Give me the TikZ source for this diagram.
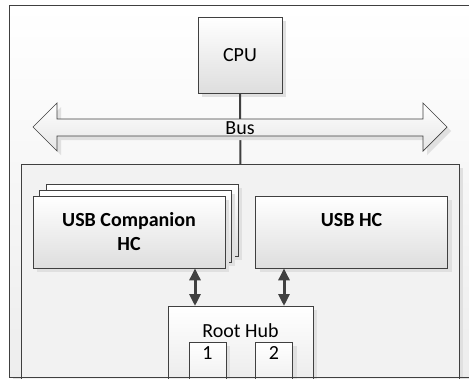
\documentclass[tikz,border=0pt]{standalone}
\usepackage{fontspec}
\setmainfont{Carlito}
\usetikzlibrary{shadows,arrows.meta}

\tikzset{
  frame/.style={draw=black!75, line width=0.8pt, anchor=north west, fill=black!5,
    drop shadow={shadow xshift=4pt, shadow yshift=-4pt, fill=black!12, opacity=1}},
  box/.style={draw=black!75, line width=0.8pt, top color=white, bottom color=black!13,
    drop shadow={shadow xshift=4pt, shadow yshift=-4pt, fill=black!12, opacity=1},
    font=\fontsize{20}{24}\selectfont, align=center},
  hc/.style={box, font=\fontsize{20}{24}\selectfont\bfseries, minimum width=192pt, minimum height=72pt},
  port/.style={box, anchor=north, minimum width=37pt, text height=13pt, text depth=60pt, inner ysep=4pt},
  wire/.style={draw=black!75, line width=2pt},
  link/.style={draw=black!75, line width=3pt,
    {Triangle[width=11pt,length=12pt]}-{Triangle[width=11pt,length=12pt]}},
}

\begin{document}
\begin{tikzpicture}[x=1pt,y=-1pt]
\useasboundingbox (0,0) rectangle (469,378);
\clip (0,0) rectangle (469,378);

% outer frame and host
\node[frame, draw=none, top color=white, bottom color=black!7, minimum width=560pt, minimum height=372pt] (board) at (9,5) {};
\draw[draw=black!75, line width=0.8pt] (board.north east) -- (board.north west)
  -- (board.south west) -- (board.south east);
\node[frame, minimum width=438pt, minimum height=240pt] (host) at (21,164) {};

\node[box, minimum width=84pt, minimum height=76pt] (cpu) at (240,55) {CPU};
\draw[wire] (cpu.south) -- (host.north);

% bus
\draw[draw=black!75, line width=0.7pt, top color=white, bottom color=black!10,
  drop shadow={shadow xshift=4pt, shadow yshift=-4pt, fill=black!12, opacity=1}]
  (33,127) -- (57,103) -- (57,119) -- (423,119) -- (423,103) -- (447,127)
  -- (423,151) -- (423,136) -- (57,136) -- (57,151) -- cycle;
\node[font=\fontsize{20}{24}\selectfont, anchor=base, inner sep=0pt] (bus) at (240,134) {Bus};

% host controllers
\node[hc] (comp3) at (142,220) {};
\node[hc] (comp2) at (135,226) {};
\node[hc] (comp) at (129,232) {USB Companion\\HC};
\node[hc] (usbhc) at (351.5,232) {USB HC\\\mbox{}};

% root hub
\node[box, anchor=north, minimum width=145pt, text height=14pt, text depth=80pt, inner ysep=17pt]
  (hub) at (240.5,306) {Root Hub};
\node[port] (port1) at (207.5,342) {1};
\node[port] (port2) at (274,342) {2};
\draw[draw=black!75, line width=0.8pt] (board.south west) -- (board.south east);

\draw[link] ([xshift=66pt]comp.south) -- ([xshift=66pt]comp.south |- hub.north);
\draw[link] ([xshift=-67.5pt]usbhc.south) -- ([xshift=-67.5pt]usbhc.south |- hub.north);
\end{tikzpicture}
\end{document}
